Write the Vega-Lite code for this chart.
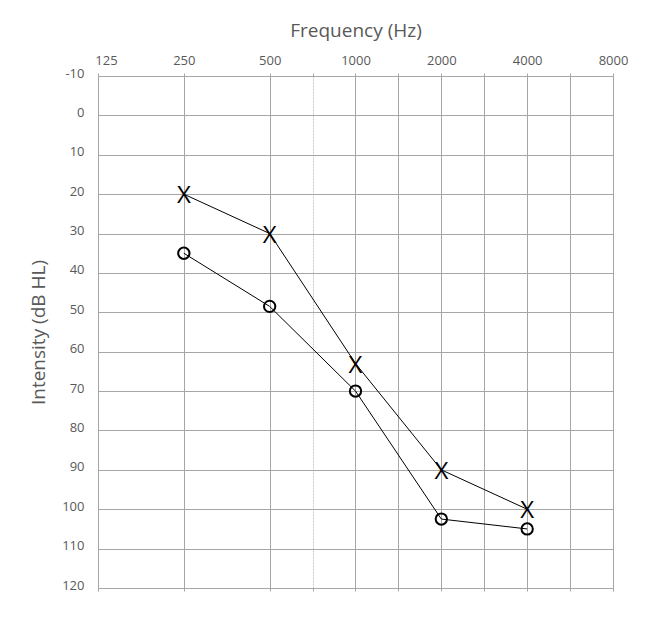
{
  "$schema": "https://vega.github.io/schema/vega-lite/v6.json",
  "width": 515,
  "height": 512,
  "autosize": {"type": "none"},
  "padding": {"left": 98, "top": 76, "right": 48, "bottom": 56},
  "background": "white",
  "config": {"view": {"stroke": "#a6a6a6", "strokeWidth": 1}, "font": "Open Sans"},
  "data": {
    "values": [
      {"ear": "left", "freq": 250, "db": 20},
      {"ear": "left", "freq": 500, "db": 30},
      {"ear": "left", "freq": 1000, "db": 63},
      {"ear": "left", "freq": 2000, "db": 90},
      {"ear": "left", "freq": 4000, "db": 100},
      {"ear": "right", "freq": 250, "db": 35},
      {"ear": "right", "freq": 500, "db": 48.5},
      {"ear": "right", "freq": 1000, "db": 70},
      {"ear": "right", "freq": 2000, "db": 102.5},
      {"ear": "right", "freq": 4000, "db": 105}
    ]
  },
  "encoding": {
    "y": {
      "field": "db",
      "type": "quantitative",
      "scale": {"domain": [-10, 120], "reverse": true, "nice": false, "zero": false},
      "axis": {
        "values": [-10, 0, 10, 20, 30, 40, 50, 60, 70, 80, 90, 100, 110, 120],
        "labelExpr": "'' + datum.value",
        "grid": true,
        "gridColor": "#a6a6a6",
        "gridOpacity": 1,
        "ticks": false,
        "domain": false,
        "labelFontSize": 13,
        "labelColor": "#595959",
        "labelPadding": 14,
        "labelOffset": -3,
        "labelFont": "Open Sans",
        "title": "Intensity (dB HL)",
        "titleFont": "Open Sans",
        "titleFontSize": 19,
        "titleFontWeight": "normal",
        "titleColor": "#595959",
        "titleX": -54,
        "titleY": 256,
        "titleBaseline": "alphabetic"
      }
    }
  },
  "layer": [
    {
      "mark": {"type": "line", "color": "black", "strokeWidth": 1},
      "encoding": {
        "detail": {"field": "ear"},
        "x": {
          "field": "freq",
          "type": "quantitative",
          "scale": {"type": "log", "base": 2, "domain": [125, 8000], "nice": false},
          "axis": {
            "orient": "top",
            "values": [125, 250, 500, 707.107, 1000, 1414.214, 2000, 2828.427, 4000, 5656.854, 8000],
            "format": "d",
            "labelExpr": "indexof([125, 250, 500, 1000, 2000, 4000, 8000], datum.value) >= 0 ? datum.label : ''",
            "grid": true,
            "gridColor": {"condition": {"test": "abs(datum.value - 707.107) < 1", "value": "#c8c8c8"}, "value": "#a6a6a6"},
            "gridOpacity": 1,
            "gridDash": {"condition": {"test": "abs(datum.value - 707.107) < 1", "value": [2, 1]}, "value": []},
            "ticks": true,
            "tickSize": 3,
            "tickColor": "#a6a6a6",
            "domain": false,
            "labelFontSize": 13,
            "labelColor": "#595959",
            "labelPadding": 6,
            "labelFlush": false,
            "labelOverlap": false,
            "labelBound": false,
            "labelOffset": {"condition": {"test": "datum.value == 125", "value": 8}, "value": 0},
            "title": "Frequency (Hz)",
            "titleFontSize": 19,
            "titleFontWeight": "normal",
            "titleColor": "#595959",
            "titleY": -40,
            "titleBaseline": "alphabetic"
          }
        }
      }
    },
    {
      "transform": [{"filter": "datum.ear == 'left'"}],
      "mark": {"type": "text", "text": "X", "fontSize": 24, "font": "Open Sans", "color": "black", "baseline": "middle", "align": "center", "dy": 2},
      "encoding": {
        "x": {
          "field": "freq",
          "type": "quantitative",
          "scale": {"type": "log", "base": 2, "domain": [125, 8000], "nice": false},
          "axis": null
        }
      }
    },
    {
      "transform": [{"filter": "datum.ear == 'right'"}],
      "mark": {"type": "point", "shape": "circle", "size": 128, "strokeWidth": 2, "color": "black", "filled": false, "opacity": 1},
      "encoding": {
        "x": {
          "field": "freq",
          "type": "quantitative",
          "scale": {"type": "log", "base": 2, "domain": [125, 8000], "nice": false},
          "axis": {
            "orient": "bottom",
            "values": [125, 250, 500, 707.107, 1000, 1414.214, 2000, 2828.427, 4000, 5656.854, 8000],
            "labels": false,
            "grid": false,
            "ticks": true,
            "tickSize": 3,
            "tickColor": "#a6a6a6",
            "domain": false,
            "title": null
          }
        }
      }
    }
  ],
  "resolve": {"axis": {"x": "independent"}}
}
